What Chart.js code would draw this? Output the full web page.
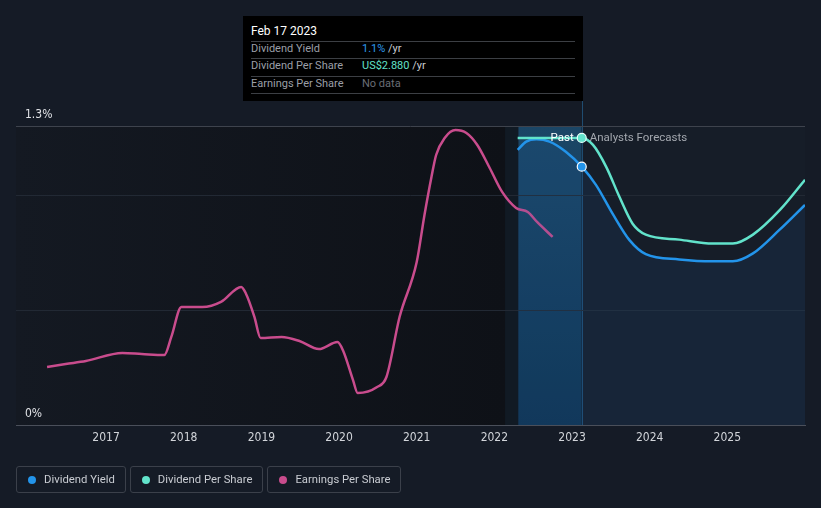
<!DOCTYPE html>
<html>
<head>
<meta charset="utf-8">
<script src="https://cdn.jsdelivr.net/npm/chart.js@4/dist/chart.umd.min.js"></script>
<style>
  html, body { margin: 0; padding: 0; background: #151b26; }
  #wrap { position: relative; width: 821px; height: 508px; font-family: Roboto, "Noto Sans", sans-serif; }
  #chart { position: absolute; left: 0; top: 0; }
  .tip { position: absolute; left: 243px; top: 16px; width: 340px; height: 85px; background: #000; }
  .tip .t { position: absolute; left: 8px; font-size: 11px; line-height: 14px; white-space: nowrap; }
  .tip .rule { position: absolute; left: 8px; width: 324px; height: 1px; background: #3c3f44; }
  .legend { position: absolute; top: 466px; left: 16px; display: flex; gap: 4px; }
  .legend div { box-sizing: border-box; height: 27px; border: 1px solid #3b404a; border-radius: 3px; padding: 0 10px 0 11px;
    display: flex; align-items: center; font-size: 11.3px; color: #c9ccd2; white-space: nowrap; }
  .legend span.dot { width: 8px; height: 8px; border-radius: 50%; margin-right: 8px; display: inline-block; }
</style>
</head>
<body>
<div id="wrap">
  <canvas id="chart" width="821" height="508"></canvas>
  <div class="tip">
    <div class="t" style="top:8px;color:#fff;font-size:12px">Feb 17 2023</div>
    <div class="rule" style="top:25px"></div>
    <div class="t" style="top:26px;color:#9b9fa7">Dividend Yield</div>
    <div class="t" style="top:26px;left:119px;color:#2e9bf0">1.1% <span style="color:#c9ccd2">/yr</span></div>
    <div class="rule" style="top:42px"></div>
    <div class="t" style="top:43px;color:#9b9fa7">Dividend Per Share</div>
    <div class="t" style="top:43px;left:119px;color:#62e0c8">US$2.880 <span style="color:#c9ccd2">/yr</span></div>
    <div class="rule" style="top:60px"></div>
    <div class="t" style="top:61px;color:#9b9fa7">Earnings Per Share</div>
    <div class="t" style="top:61px;left:119px;color:#6a6e76">No data</div>
    <div class="rule" style="top:77px"></div>
  </div>
  <div class="legend">
    <div><span class="dot" style="background:#2394ea"></span>Dividend Yield</div>
    <div><span class="dot" style="background:#62e3cb"></span>Dividend Per Share</div>
    <div><span class="dot" style="background:#c94c8d"></span>Earnings Per Share</div>
  </div>
</div>
<script>
// x positions are fractional years
const yearTicks = [2017, 2018, 2019, 2020, 2021, 2022, 2023, 2024, 2025];
const yieldTicks = [0, 0.5, 1.0, 1.3];

// Dividend yield (%)
const yieldYears = [2022.30, 2022.41, 2022.54, 2022.71, 2022.92, 2023.125, 2023.31, 2023.52, 2023.74, 2023.95, 2024.38, 2024.81, 2025.07, 2025.33, 2025.67, 2026.0];
const yieldValues = [1.196, 1.232, 1.242, 1.232, 1.188, 1.123, 1.043, 0.920, 0.804, 0.743, 0.720, 0.712, 0.712, 0.746, 0.848, 0.957];

// Dividend per share (US$)
const dpsYears = [2022.30, 2022.70, 2023.125, 2023.27, 2023.44, 2023.61, 2023.78, 2023.95, 2024.38, 2024.81, 2025.07, 2025.33, 2025.68, 2026.0];
const dpsValues = [2.88, 2.88, 2.88, 2.81, 2.59, 2.29, 2.02, 1.91, 1.86, 1.82, 1.82, 1.91, 2.16, 2.46];

// Earnings per share (US$)
const epsYears = [2016.24, 2016.48, 2016.74, 2017.21, 2017.46, 2017.75, 2017.84, 2017.97, 2018.24, 2018.48, 2018.74, 2018.80, 2018.91, 2018.99, 2019.26, 2019.49, 2019.74, 2019.98, 2020.05, 2020.18, 2020.24, 2020.49, 2020.61, 2020.78, 2021.0, 2021.10, 2021.19, 2021.25, 2021.36, 2021.50, 2021.64, 2021.78, 2021.94, 2022.10, 2022.28, 2022.43, 2022.55, 2022.75];
const epsValues = [3.88, 4.08, 4.28, 4.82, 4.75, 4.68, 5.89, 7.89, 7.89, 8.23, 9.23, 8.80, 7.24, 5.82, 5.89, 5.62, 5.08, 5.55, 5.0, 3.0, 2.14, 2.54, 3.21, 7.24, 10.9, 14.05, 16.59, 18.06, 19.2, 19.73, 19.53, 18.73, 17.19, 15.59, 14.52, 14.25, 13.58, 12.58];

const pastEnd = 2022.14;
const bandStart = 2022.31;
const today = 2023.125;

const axisFont = '"Liberation Sans Narrow", "DejaVu Sans Condensed", Roboto, sans-serif';

const toPoints = (xs, ys) => xs.map((x, i) => ({ x: x, y: ys[i] }));
const markerRadius = (xs) => xs.map(x => x === today ? 4.5 : 0);

const regions = {
  id: 'regions',
  beforeDraw(chart) {
    const { ctx, chartArea: a, scales: { x } } = chart;
    const xp = x.getPixelForValue(pastEnd);
    const xb = x.getPixelForValue(bandStart);
    const xt = x.getPixelForValue(today);
    ctx.save();
    ctx.fillStyle = '#151b26';
    ctx.fillRect(0, 0, chart.width, chart.height);
    const g = ctx.createLinearGradient(a.left, 0, xp, 0);
    g.addColorStop(0, '#141922');
    g.addColorStop(1, '#0e1117');
    ctx.fillStyle = g;
    ctx.fillRect(a.left, a.top, xp - a.left, a.bottom - a.top);
    ctx.fillStyle = '#111a24';
    ctx.fillRect(xp, a.top, xb - xp, a.bottom - a.top);
    const b = ctx.createLinearGradient(0, a.top, 0, a.bottom);
    b.addColorStop(0, '#1b4666');
    b.addColorStop(1, '#0f3350');
    ctx.fillStyle = b;
    ctx.fillRect(xb, a.top, xt - xb, a.bottom - a.top);
    ctx.fillStyle = '#161d28';
    ctx.fillRect(xt, a.top, a.right - xt, a.bottom - a.top);
    ctx.strokeStyle = '#1f4c70';
    ctx.lineWidth = 1;
    ctx.beginPath();
    ctx.moveTo(Math.round(xt) + 0.5, 101);
    ctx.lineTo(Math.round(xt) + 0.5, a.bottom);
    ctx.stroke();
    ctx.restore();
  },
  afterDatasetsDraw(chart) {
    const { ctx, scales: { x, y2 } } = chart;
    const xt = x.getPixelForValue(today);
    const yy = y2.getPixelForValue(dpsValues[2]);
    ctx.save();
    ctx.font = '11.5px Roboto, sans-serif';
    ctx.textBaseline = 'middle';
    ctx.textAlign = 'right';
    ctx.fillStyle = '#ffffff';
    ctx.fillText('Past', xt - 8, yy);
    ctx.textAlign = 'left';
    ctx.fillStyle = '#a3a7ae';
    ctx.fillText('Analysts Forecasts', xt + 8, yy);
    ctx.restore();
  }
};

new Chart(document.getElementById('chart').getContext('2d'), {
  type: 'line',
  data: {
    datasets: [
      {
        label: 'Dividend Yield',
        data: toPoints(yieldYears, yieldValues),
        yAxisID: 'y',
        borderColor: '#2394ea',
        backgroundColor: 'rgba(30,100,170,0.12)',
        fill: 'origin',
        borderWidth: 2.5,
        cubicInterpolationMode: 'monotone',
        pointRadius: markerRadius(yieldYears),
        pointBackgroundColor: '#2394ea',
        pointBorderColor: '#ffffff',
        pointBorderWidth: 1.2,
        order: 2,
      },
      {
        label: 'Dividend Per Share',
        data: toPoints(dpsYears, dpsValues),
        yAxisID: 'y2',
        borderColor: '#62e3cb',
        borderWidth: 2.5,
        fill: false,
        cubicInterpolationMode: 'monotone',
        pointRadius: markerRadius(dpsYears),
        pointBackgroundColor: '#62e3cb',
        pointBorderColor: '#e8fffa',
        pointBorderWidth: 1.2,
        order: 1,
      },
      {
        label: 'Earnings Per Share',
        data: toPoints(epsYears, epsValues),
        yAxisID: 'y3',
        borderColor: '#c94c8d',
        borderWidth: 2.5,
        fill: false,
        cubicInterpolationMode: 'monotone',
        pointRadius: 0,
        order: 3,
      },
    ],
  },
  plugins: [regions],
  options: {
    responsive: false,
    animation: false,
    layout: { padding: { left: 16, right: 16, top: 126, bottom: 0 } },
    plugins: { legend: { display: false }, tooltip: { enabled: false } },
    scales: {
      x: {
        type: 'linear',
        min: 2015.84,
        max: 2026.0,
        afterBuildTicks: (axis) => { axis.ticks = yearTicks.map(v => ({ value: v })); },
        afterFit: (scale) => { scale.height = 83; },
        ticks: {
          callback: (v) => String(v),
          color: '#d2d5da',
          font: { family: axisFont, size: 12 },
          padding: 6,
          maxRotation: 0,
        },
        grid: { drawOnChartArea: false, drawTicks: false },
        border: { display: true, color: '#4a4f5a', width: 1 },
      },
      y: {
        min: 0,
        max: 1.3,
        afterBuildTicks: (axis) => { axis.ticks = yieldTicks.map(v => ({ value: v })); },
        afterFit: (scale) => { scale.width = 0; },
        ticks: {
          mirror: true,
          padding: 9,
          labelOffset: -11,
          color: '#e0e2e6',
          font: { family: axisFont, size: 12 },
          callback: (v) => (v === 0 || v === 1.3) ? v + '%' : '',
        },
        grid: {
          drawTicks: false,
          color: (c) => c.tick && c.tick.value === 1.3 ? '#3e434d' : (c.tick && c.tick.value === 0 ? 'rgba(0,0,0,0)' : '#222934'),
        },
        border: { display: false },
      },
      y2: { display: false, min: 0, max: 3.0 },
      y3: { display: false, min: 0, max: 20 },
    },
  },
});
</script>
</body>
</html>
